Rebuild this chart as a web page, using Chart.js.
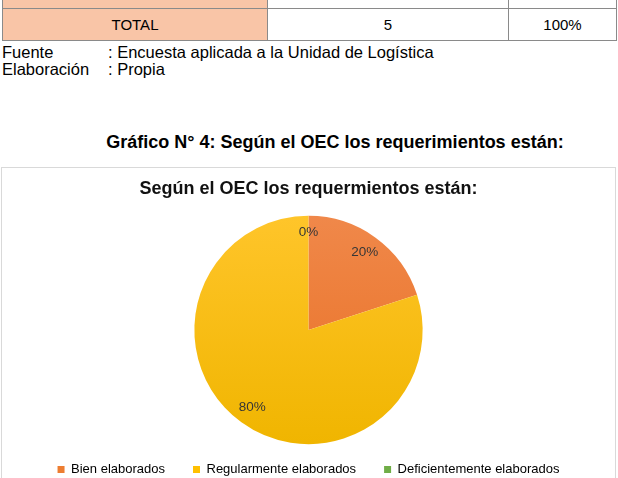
<!DOCTYPE html>
<html><head><meta charset="utf-8">
<script src="https://cdn.jsdelivr.net/npm/chart.js@4"></script>
<style>
html,body{margin:0;padding:0;background:#fff;width:618px;height:478px;overflow:hidden;font-family:"Liberation Sans",Arial,sans-serif;color:#000;}
table{position:absolute;left:2px;top:-24px;border-collapse:collapse;width:615px;font-size:15px;}
td{border:1px solid #8a8a8a;height:31px;padding:0;text-align:center;}
td.l{background:#F9C5A7;width:264px;}
td.m{width:240px;}
.src{position:absolute;left:2px;font-size:16.5px;line-height:17px;}
.src span{display:inline-block;width:106px;}
#head{position:absolute;left:0;width:670px;top:132px;text-align:center;font-weight:bold;font-size:18px;}
#box{position:absolute;left:1px;top:167px;width:615px;height:330px;border:1px solid #d9d9d9;box-sizing:border-box;}
#box canvas{display:block;}
</style></head><body>
<table>
<tr><td class="l"></td><td class="m"></td><td></td></tr>
<tr><td class="l">TOTAL</td><td class="m">5</td><td>100%</td></tr>
</table>
<div class="src" style="top:44px"><span>Fuente</span>: Encuesta aplicada a la Unidad de Logística</div>
<div class="src" style="top:61px"><span>Elaboración</span>: Propia</div>
<div id="head">Gráfico N° 4: Según el OEC los requerimientos están:</div>
<div id="box"><canvas id="c" width="613" height="328"></canvas></div>
<script>
const categories = ["Bien elaborados", "Regularmente elaborados", "Deficientemente elaborados"];
const values = [20, 80, 0];
const percentLabels = ["20%", "80%", "0%"];
const chartTitle = "Según el OEC los requermientos están:";

const baseColors = ["#ED7D31", "#FFC000", "#70AD47"];
function grad(ctx, top, bottom) {
  const c = ctx.chart; const a = c.chartArea;
  if (!a) return top;
  const g = c.ctx.createLinearGradient(0, a.top - 10, 0, a.bottom + 10);
  g.addColorStop(0, top); g.addColorStop(1, bottom);
  return g;
}
const gradStops = [["#F0884A", "#E86F22"], ["#FFC52A", "#F0B500"], ["#7AB552", "#5E9A38"]];

const labelPlugin = {
  id: "pctLabels",
  afterDatasetsDraw(chart) {
    const ctx = chart.ctx;
    const meta = chart.getDatasetMeta(0);
    ctx.save();
    ctx.font = "13.5px 'Liberation Sans', Arial, sans-serif";
    ctx.fillStyle = "#363636";
    ctx.textAlign = "center"; ctx.textBaseline = "middle";
    meta.data.forEach((arc, i) => {
      const p = arc.getProps(["x", "y", "startAngle", "endAngle", "outerRadius"], true);
      const zero = values[i] === 0;
      const mid = (p.startAngle + p.endAngle) / 2;
      const r = p.outerRadius * (zero ? 0.86 : 0.84);
      ctx.fillText(percentLabels[i], p.x + Math.cos(mid) * r, p.y + Math.sin(mid) * r);
    });
    ctx.restore();
  }
};

new Chart(document.getElementById("c"), {
  type: "pie",
  data: {
    labels: categories,
    datasets: [{
      data: values,
      backgroundColor: (ctx) => grad(ctx, gradStops[ctx.dataIndex][0], gradStops[ctx.dataIndex][1]),
      borderWidth: 0,
      radius: "108.7%"
    }]
  },
  options: {
    responsive: false,
    animation: false,
    events: [],
    layout: { padding: { top: 0, bottom: 10, left: 0, right: 0 } },
    plugins: {
      title: {
        display: true, text: chartTitle, color: "#111111",
        font: { family: "'Liberation Sans', Arial, sans-serif", size: 18, weight: "bold" },
        padding: { top: 10, bottom: 25.4 }
      },
      legend: {
        position: "bottom",
        labels: {
          generateLabels: (chart) => categories.map((t, i) => ({ text: t, fillStyle: baseColors[i], strokeStyle: baseColors[i], lineWidth: 0, index: i, hidden: false })),
          boxWidth: 7, boxHeight: 7, padding: 28, color: "#404040",
          font: { family: "'Liberation Sans', Arial, sans-serif", size: 13 }
        }
      },
      tooltip: { enabled: false }
    }
  },
  plugins: [labelPlugin]
});
</script>
</body></html>
